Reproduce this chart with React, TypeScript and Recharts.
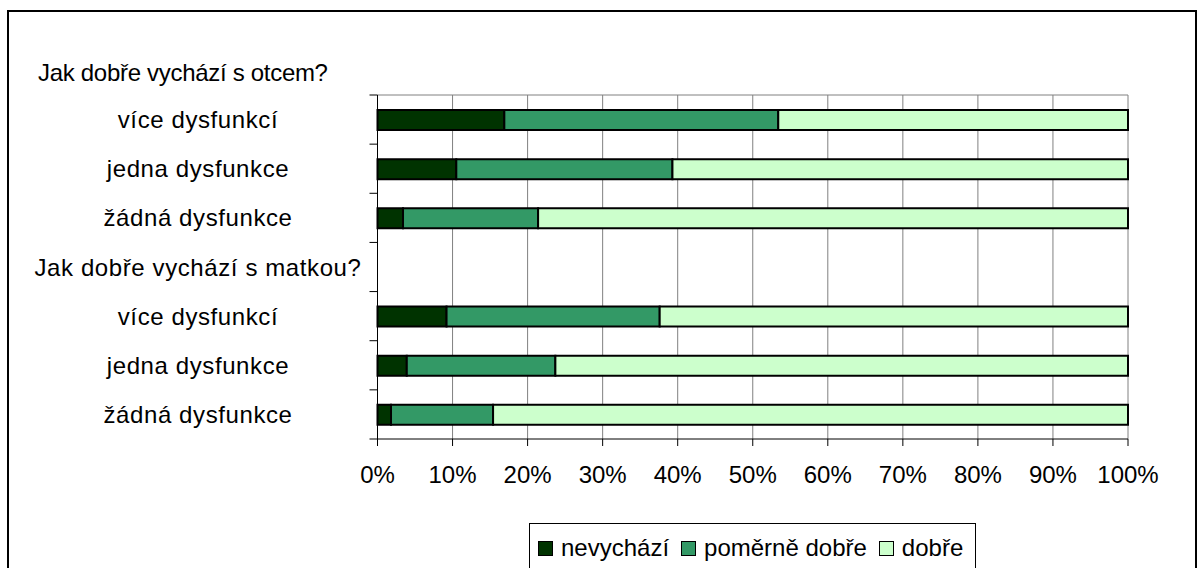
import { Bar, BarChart, CartesianGrid, Legend, XAxis, YAxis } from "recharts";

const categories = [
  "více dysfunkcí",
  "jedna dysfunkce",
  "žádná dysfunkce",
  "Jak dobře vychází s matkou?",
  "více dysfunkcí",
  "jedna dysfunkce",
  "žádná dysfunkce",
];
const nevychazi = [16.9, 10.5, 3.4, null, 9.2, 3.9, 1.8];
const pomerneDobre = [36.5, 28.8, 18.0, null, 28.4, 19.8, 13.6];
const dobre = [46.6, 60.7, 78.6, null, 62.4, 76.3, 84.6];
const xTicks = [0, 10, 20, 30, 40, 50, 60, 70, 80, 90, 100];

const series = [
  { key: "nevychazi", name: "nevychází", color: "#003300" },
  { key: "pomerne", name: "poměrně dobře", color: "#339966" },
  { key: "dobre", name: "dobře", color: "#CCFFCC" },
];

const data = categories.map((c, i) => ({
  id: i,
  label: c,
  nevychazi: nevychazi[i],
  pomerne: pomerneDobre[i],
  dobre: dobre[i],
}));

const FONT = '"Liberation Sans", Arial, sans-serif';
const W = 1199;
const H = 568;
const TOP = 95;
const RIGHT = 71;
const AXIS_LEFT = 377.5;
const X_AXIS_H = 129;
const BAND = (H - TOP - X_AXIS_H) / categories.length;

const YTick = (props: any) => {
  const { y, payload, index } = props;
  const last = index === categories.length - 1;
  return (
    <g>
      <line x1={AXIS_LEFT - 8} x2={AXIS_LEFT} y1={y - BAND / 2} y2={y - BAND / 2} stroke="#000" />
      {last && (
        <line x1={AXIS_LEFT - 8} x2={AXIS_LEFT} y1={y + BAND / 2} y2={y + BAND / 2} stroke="#000" />
      )}
      <text
        x={198}
        y={y}
        dy="0.355em"
        textAnchor="middle"
        fontFamily={FONT}
        fontSize={24}
        letterSpacing={0.6}
        fill="#000"
      >
        {categories[payload.value]}
      </text>
    </g>
  );
};

const renderLegend = () => (
  <div
    style={{
      border: "1px solid #000",
      height: 60,
      boxSizing: "border-box",
      display: "flex",
      alignItems: "flex-start",
      paddingTop: 11,
      paddingLeft: 8,
      paddingRight: 0,
      fontFamily: FONT,
      fontSize: 24,
      lineHeight: "26px",
      color: "#000",
      background: "#fff",
      whiteSpace: "nowrap",
    }}
  >
    {series.map((s) => (
      <span key={s.key} style={{ display: "flex", alignItems: "center", marginRight: 12 }}>
        <span
          style={{
            display: "inline-block",
            width: 13,
            height: 13,
            background: s.color,
            border: "1px solid #000",
            marginRight: 8,
          }}
        />
        {s.name}
      </span>
    ))}
  </div>
);

export default function App() {
  return (
    <div
      style={{
        position: "absolute",
        left: 0,
        top: 0,
        width: W,
        height: H,
        overflow: "hidden",
        background: "#fff",
      }}
    >
      <div
        style={{
          position: "absolute",
          left: 7,
          top: 10,
          width: 1190,
          height: 620,
          border: "2px solid #000",
          boxSizing: "border-box",
        }}
      />
      <div
        style={{
          position: "absolute",
          left: 38,
          top: 61,
          fontFamily: FONT,
          fontSize: 24,
          lineHeight: "24px",
          letterSpacing: -0.3,
          color: "#000",
          whiteSpace: "nowrap",
        }}
      >
        Jak dobře vychází s otcem?
      </div>
      <BarChart
        width={W}
        height={H}
        data={data}
        layout="vertical"
        barSize={20}
        margin={{ top: TOP, right: RIGHT, bottom: 0, left: 0 }}
        style={{ position: "absolute", left: 0, top: 0 }}
      >
        <CartesianGrid
          stroke="#808080"
          vertical
          horizontalCoordinatesGenerator={({ offset }: any) => [offset.top]}
        />
        <XAxis
          type="number"
          domain={[0, 100]}
          ticks={xTicks}
          tickFormatter={(v) => `${v}%`}
          height={X_AXIS_H}
          axisLine={{ stroke: "#000" }}
          tickLine={{ stroke: "#000" }}
          tickSize={7}
          tickMargin={20}
          tick={{ fill: "#000", fontFamily: FONT, fontSize: 24 }}
          interval={0}
        />
        <YAxis
          type="category"
          dataKey="id"
          width={AXIS_LEFT}
          axisLine={{ stroke: "#000" }}
          tickLine={false}
          tick={<YTick />}
          interval={0}
        />
        <Legend
          layout="horizontal"
          verticalAlign="middle"
          align="center"
          content={renderLegend}
          wrapperStyle={{ left: 529, top: 523, width: "auto" }}
        />
        {series.map((s) => (
          <Bar
            key={s.key}
            dataKey={s.key}
            name={s.name}
            stackId="a"
            fill={s.color}
            stroke="#000"
            strokeWidth={2}
            isAnimationActive={false}
          />
        ))}
      </BarChart>
    </div>
  );
}
